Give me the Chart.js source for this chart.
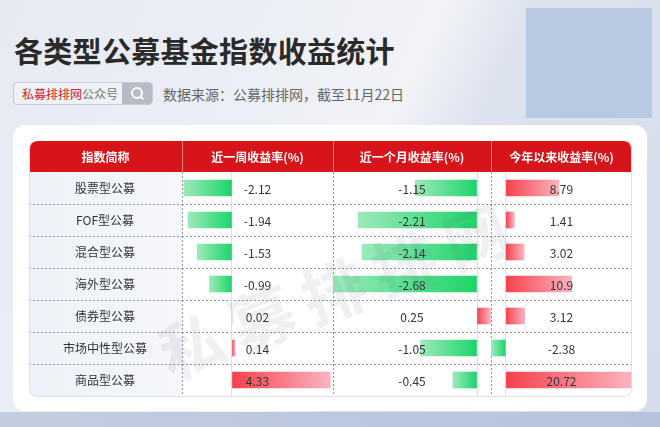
<!DOCTYPE html>
<html>
<head>
<meta charset="utf-8">
<script src="https://cdn.jsdelivr.net/npm/chart.js@4.4.0/dist/chart.umd.min.js"></script>
<style>
  html, body { margin: 0; padding: 0; }
  body {
    width: 660px; height: 427px; overflow: hidden; position: relative;
    font-family: "Noto Sans CJK SC", "Noto Sans", sans-serif;
    background: linear-gradient(115deg, #e7eaf1 0%, #eceff5 35%, #f1f3f7 52%, #dde3ee 62%, #d5dcea 100%);
  }
  .deco { position: absolute; left: 526px; top: 8px; width: 126px; height: 110px; background: #b9c9e2; }
  .band { position: absolute; left: 0; top: 412px; width: 660px; height: 15px; background: linear-gradient(90deg, #c3cde0, #b6c3dc); }
  h1 { position: absolute; left: 14px; top: 36px; margin: 0; font-size: 29px; line-height: 29px; font-weight: 700; color: #2a2a2a; letter-spacing: 0.3px; }
  .search { position: absolute; left: 13px; top: 82px; width: 138px; height: 21px; border: 1px solid #c6ccd6; border-radius: 4px; background: #eef1f5; overflow: hidden; }
  .search .txt { position: absolute; left: 8px; top: 0; line-height: 21px; font-size: 12px; color: #777; }
  .search .txt b { font-weight: 400; color: #d2232a; }
  .search .btn { position: absolute; right: 0; top: 0; width: 30px; height: 21px; background: #b6bbc5; }
  .search .btn i { position: absolute; left: 9px; top: 4px; width: 8px; height: 8px; border: 2px solid #fff; border-radius: 50%; }
  .search .btn s { position: absolute; left: 18px; top: 14px; width: 4px; height: 2px; background: #fff; transform: rotate(45deg); }
  .source { position: absolute; left: 163px; top: 84px; font-size: 14px; line-height: 20px; color: #666; }
  .card { position: absolute; left: 13px; top: 125px; width: 634px; height: 286px; background: #fff; border-radius: 12px; }
  .table { position: absolute; left: 29px; top: 141px; width: 604px; height: 256px; border-radius: 8px; overflow: hidden; }
  .table .edge { position: absolute; left: 0; top: 0; right: 1px; bottom: 0; border: 1px solid #dde1e8; border-top: none; border-radius: 8px; pointer-events: none; }
  .mark { position: absolute; left: 148px; top: 240px; font-size: 64px; font-weight: 700; letter-spacing: 12px; color: rgba(110, 120, 140, 0.11); transform: rotate(-21deg); transform-origin: 50% 50%; pointer-events: none; white-space: nowrap; }
</style>
</head>
<body>
<div class="deco"></div>
<div class="band"></div>
<h1>各类型公募基金指数收益统计</h1>
<div class="search"><span class="txt"><b>私募排排网</b>公众号</span><span class="btn"><i></i><s></s></span></div>
<div class="source">数据来源：公募排排网，截至11月22日</div>
<div class="card"></div>
<div class="table">
  <canvas id="myChart"></canvas>
  <div class="edge"></div>
</div>
<div class="mark">私募排排网</div>
<script>
const names = ['股票型公募', 'FOF型公募', '混合型公募', '海外型公募', '债券型公募', '市场中性型公募', '商品型公募'];
const headers = ['指数简称', '近一周收益率(%)', '近一个月收益率(%)', '今年以来收益率(%)'];
const weekReturns = [-2.12, -1.94, -1.53, -0.99, 0.02, 0.14, 4.33];
const monthReturns = [-1.15, -2.21, -2.14, -2.68, 0.25, -1.05, -0.45];
const ytdReturns = [8.79, 1.41, 3.02, 10.9, 3.12, -2.38, 20.72];

const FONT = '"Noto Sans CJK SC", "Noto Sans", sans-serif';
const GRID = '#8e94a3';
const ZERO = '#dcdfe5';
const GREEN = ['#1dd469', '#9ceabb'];
const RED = ['#f5414b', '#fbb3c0'];

// gradient runs from the zero line (strong) to the bar end (light)
function barFill(ctx) {
  const chart = ctx.chart;
  const v = ctx.raw;
  if (v == null || !chart.chartArea) return 'transparent';
  const sc = chart.scales[ctx.dataset.xAxisID];
  const x0 = sc.getPixelForValue(0);
  const x1 = sc.getPixelForValue(v);
  const cols = v < 0 ? GREEN : RED;
  if (Math.abs(x1 - x0) < 1) return 'rgba(245,65,75,0.25)';
  const g = chart.ctx.createLinearGradient(x0, 0, x1, 0);
  g.addColorStop(0, cols[0]);
  g.addColorStop(1, cols[1]);
  return g;
}

function ds(data, axis) {
  return {
    data: data,
    xAxisID: axis,
    yAxisID: 'y',
    grouped: false,
    barThickness: 16,
    borderWidth: 0,
    backgroundColor: barFill
  };
}

function colScale(min, max, weight) {
  return {
    type: 'linear',
    position: 'bottom',
    stack: 'cols',
    stackWeight: weight,
    min: min,
    max: max,
    ticks: { display: false },
    grid: {
      drawTicks: false,
      lineWidth: 1,
      color: (c) => (c.tick && c.tick.value === 0 ? ZERO : 'transparent')
    },
    border: { display: false },
    afterBuildTicks: (s) => { s.ticks = [{ value: 0 }]; }
  };
}

const tablePlugin = {
  id: 'tablePlugin',
  beforeDraw(chart) {
    const { ctx, chartArea } = chart;
    const y = chart.scales.y;
    // name column background
    const bg = ctx.createLinearGradient(0, chartArea.top, chartArea.left, chartArea.top);
    bg.addColorStop(0, '#eef2f8');
    bg.addColorStop(1, '#f5f7fb');
    ctx.save();
    ctx.fillStyle = bg;
    ctx.fillRect(0, chartArea.top, chartArea.left, chartArea.bottom - chartArea.top);
    // dashed row lines in the name column
    ctx.strokeStyle = GRID;
    ctx.lineWidth = 1;
    ctx.setLineDash([2, 2]);
    const half = (y.getPixelForValue(1) - y.getPixelForValue(0)) / 2;
    for (let i = 1; i < names.length; i++) {
      const yy = Math.round(y.getPixelForValue(i) - half) + 0.5;
      ctx.beginPath();
      ctx.moveTo(0, yy);
      ctx.lineTo(chartArea.left, yy);
      ctx.stroke();
    }
    ctx.restore();
  },
  beforeDatasetsDraw(chart) {
    const { ctx, chartArea } = chart;
    ctx.save();
    ctx.strokeStyle = GRID;
    ctx.lineWidth = 1;
    ctx.setLineDash([2, 2]);
    [chartArea.left, chart.scales.xm.left, chart.scales.xy.left].forEach((px) => {
      const x = Math.round(px) + 0.5;
      ctx.beginPath();
      ctx.moveTo(x, chartArea.top);
      ctx.lineTo(x, chartArea.bottom);
      ctx.stroke();
    });
    ctx.restore();
  },
  afterDatasetsDraw(chart) {
    const { ctx, chartArea } = chart;
    const y = chart.scales.y;
    ctx.save();
    ctx.font = '12px ' + FONT;
    ctx.fillStyle = '#333';
    ctx.textAlign = 'center';
    ctx.textBaseline = 'middle';
    chart.data.datasets.forEach((d) => {
      const sc = chart.scales[d.xAxisID];
      const cx = (sc.left + sc.right) / 2;
      d.data.forEach((v, i) => {
        ctx.fillText(String(v), cx, y.getPixelForValue(i) + 1);
      });
    });
    // header row
    const hTop = 0, hBot = chartArea.top;
    ctx.fillStyle = '#d8141b';
    ctx.beginPath();
    ctx.roundRect(0, hTop, chartArea.right, hBot - hTop, [8, 8, 0, 0]);
    ctx.fill();
    const edges = [0, chartArea.left, chart.scales.xm.left, chart.scales.xy.left, chartArea.right];
    ctx.strokeStyle = 'rgba(255,255,255,0.45)';
    ctx.lineWidth = 1;
    for (let k = 1; k < 4; k++) {
      const x = Math.round(edges[k]) + 0.5;
      ctx.beginPath();
      ctx.moveTo(x, hTop);
      ctx.lineTo(x, hBot);
      ctx.stroke();
    }
    ctx.fillStyle = '#fff';
    ctx.font = 'bold 12px ' + FONT;
    headers.forEach((h, k) => {
      ctx.fillText(h, (edges[k] + edges[k + 1]) / 2, (hTop + hBot) / 2 + 1);
    });
    ctx.restore();
  }
};

const config = {
  type: 'bar',
  data: {
    labels: names,
    datasets: [
      ds(weekReturns, 'xw'),
      ds(monthReturns, 'xm'),
      ds(ytdReturns, 'xy')
    ]
  },
  options: {
    indexAxis: 'y',
    responsive: true,
    maintainAspectRatio: false,
    animation: false,
    layout: { padding: { top: 31, right: 1, bottom: 1, left: 0 } },
    plugins: {
      legend: { display: false },
      tooltip: { enabled: false }
    },
    scales: {
      y: {
        type: 'category',
        position: 'left',
        offset: true,
        grid: {
          offset: true,
          drawTicks: false,
          lineWidth: 1,
          color: (c) => (c.index > 0 ? GRID : 'transparent')
        },
        border: { display: false, dash: [2, 2] },
        ticks: {
          color: '#333',
          font: { size: 12, family: FONT },
          crossAlign: 'center',
          padding: 35
        },
        afterFit: (s) => {
          s.width = 153;
          s.paddingTop = 0;
          s.paddingBottom = 0;
        }
      },
      xw: colScale(-2.2, 4.45, 151),
      xm: colScale(-2.68, 0.26, 158),
      xy: colScale(-2.45, 20.9, 141)
    }
  },
  plugins: [tablePlugin]
};

var ctx = document.getElementById('myChart').getContext('2d');
var myChart = new Chart(ctx, config);
</script>
</body>
</html>
